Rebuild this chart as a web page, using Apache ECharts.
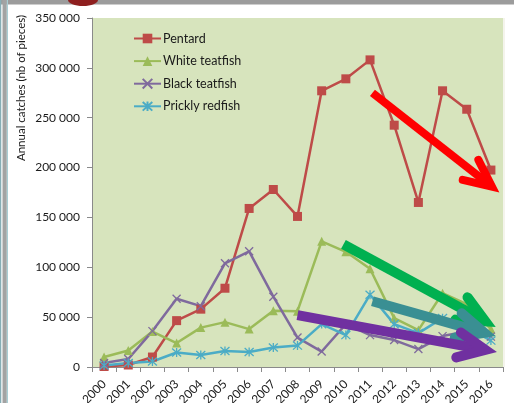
<!DOCTYPE html>
<html>
<head>
<meta charset="utf-8">
<script src="https://cdn.jsdelivr.net/npm/echarts@6/dist/echarts.min.js"></script>
<style>
  html, body { margin: 0; padding: 0; background: #ffffff; }
  #chart { width: 514px; height: 403px; }
</style>
</head>
<body>
<div id="chart"></div>
<script>
// Annual catches of sea cucumbers, number of pieces
const years = ['2000', '2001', '2002', '2003', '2004', '2005', '2006', '2007', '2008',
               '2009', '2010', '2011', '2012', '2013', '2014', '2015', '2016'];
const pentard        = [500, 2000, 10000, 46500, 58000, 79000, 159000, 178000, 151000,
                        277000, 289000, 308000, 242500, 165000, 277000, 258500, 197500];
const whiteTeatfish  = [10000, 16500, 35500, 24000, 39500, 45000, 38000, 56500, 56000,
                        126000, 115500, 98500, 49000, 37000, 74000, 63000, 38000];
const blackTeatfish  = [4000, 8000, 36000, 68500, 61000, 104000, 116000, 70500, 29500,
                        15500, 43000, 32000, 27000, 18000, 31000, 35500, 30500];
const pricklyRedfish = [1500, 4000, 5500, 14500, 12000, 16000, 15000, 19500, 21500,
                        43000, 32000, 72500, 43000, 34000, 49000, 40000, 26500];
const yTicks = [0, 50000, 100000, 150000, 200000, 250000, 300000, 350000];

// Trend arrows, in data units: [category index, catches]; "to" is the arrow point
const trendArrows = [
  { color: '#ff0000', width: 8,  from: [11.1, 275000], to: [16.35, 175000] },
  { color: '#00b050', width: 10, from: [9.9, 123000],  to: [16.2, 40000] },
  { color: '#3a8f93', width: 10, from: [11.1, 66000],  to: [16.2, 31000] },
  { color: '#7030a0', width: 10, from: [8.0, 52000],   to: [16.25, 15000] }
];

const FONT = 'Lato, "Open Sans", sans-serif';
const crossPath = 'path://M0,0L10,10M10,0L0,10';
const starPath = 'path://M5,0L5,10M0.5,0.5L9.5,9.5M9.5,0.5L0.5,9.5';

function lineSeries(name, data, color, symbol, size, hollow) {
  return {
    name: name,
    type: 'line',
    data: data,
    symbol: symbol,
    symbolSize: size,
    showAllSymbol: true,
    lineStyle: { color: color, width: 2.5 },
    itemStyle: hollow
      ? { color: 'rgba(0,0,0,0)', borderColor: color, borderWidth: 1.3 }
      : { color: color, borderColor: color, borderWidth: 0 },
    emphasis: { disabled: true },
    animation: false
  };
}

const chart = echarts.init(document.getElementById('chart'), null, { renderer: 'canvas' });

chart.setOption({
  animation: false,
  backgroundColor: '#ffffff',
  textStyle: { fontFamily: FONT },
  grid: { left: 92, right: 11, top: 18, bottom: 36, show: true, outerBoundsMode: 'none',
          containLabel: false, backgroundColor: '#d7e4bd', borderWidth: 0 },
  legend: {
    orient: 'vertical',
    left: 133, top: 32,
    padding: 0,
    itemWidth: 27, itemHeight: 12, itemGap: 9.6,
    textStyle: { fontFamily: FONT, fontSize: 12.5, color: '#1a1a1a', padding: [0, 0, 0, -3] },
    data: ['Pentard', 'White teatfish', 'Black teatfish', 'Prickly redfish']
  },
  xAxis: {
    type: 'category',
    data: years,
    boundaryGap: true,
    axisLine: { lineStyle: { color: '#8a8a8a', width: 1 } },
    axisTick: { show: true, length: 5, alignWithLabel: false, lineStyle: { color: '#8a8a8a' } },
    axisLabel: { interval: 0, rotate: 45, margin: 15, fontSize: 12, color: '#1a1a1a', fontFamily: FONT },
    splitLine: { show: false }
  },
  yAxis: {
    type: 'value',
    min: yTicks[0],
    max: yTicks[yTicks.length - 1],
    interval: yTicks[1] - yTicks[0],
    axisLine: { show: true, lineStyle: { color: '#8a8a8a', width: 1 } },
    axisTick: { show: true, length: 5, lineStyle: { color: '#8a8a8a' } },
    axisLabel: {
      margin: 12, fontSize: 12, color: '#1a1a1a', fontFamily: FONT,
      formatter: v => v === 0 ? '0' : (v / 1000) + ' 000'
    },
    splitLine: { show: false }
  },
  series: [
    lineSeries('Pentard', pentard, '#be4b48', 'rect', 9, false),
    lineSeries('White teatfish', whiteTeatfish, '#9bbb59', 'triangle', 9, false),
    lineSeries('Black teatfish', blackTeatfish, '#7f6a9d', crossPath, 8, true),
    lineSeries('Prickly redfish', pricklyRedfish, '#4bacc6', starPath, 9, true)
  ]
});

// Map a (possibly fractional) category index and value to pixels
function toPixel(pt) {
  const i0 = Math.floor(pt[0]);
  const a = chart.convertToPixel({ gridIndex: 0 }, [i0, pt[1]]);
  const b = chart.convertToPixel({ gridIndex: 0 }, [i0 + 1, pt[1]]);
  const f = pt[0] - i0;
  return [a[0] + (b[0] - a[0]) * f, a[1]];
}

function arrowElements(arrow, z) {
  const p0 = toPixel(arrow.from);
  const outer = toPixel(arrow.to);
  const ang = Math.atan2(outer[1] - p0[1], outer[0] - p0[0]);
  const cosA = Math.cos(ang), sinA = Math.sin(ang);
  const spread = 25 * Math.PI / 180;
  // pull the stroke's centre back so the mitred point lands on "to"
  const miter = arrow.width / 2 / Math.sin(spread);
  const tip = [outer[0] - miter * cosA, outer[1] - miter * sinA];
  const back = ang + Math.PI;
  const armLen = 30;
  const arm1 = [tip[0] + armLen * Math.cos(back - spread), tip[1] + armLen * Math.sin(back - spread)];
  const arm2 = [tip[0] + armLen * Math.cos(back + spread), tip[1] + armLen * Math.sin(back + spread)];
  return [
    { type: 'polyline', z: z, silent: true,
      shape: { points: [p0, tip] },
      style: { stroke: arrow.color, lineWidth: arrow.width, lineCap: 'butt', fill: null } },
    { type: 'polyline', z: z, silent: true,
      shape: { points: [arm1, tip, arm2] },
      style: { stroke: arrow.color, lineWidth: arrow.width, lineCap: 'round', lineJoin: 'miter',
               miterLimit: 10, fill: null } }
  ];
}

const graphics = [
  // slide frame: top bar and left edge
  { type: 'rect', z: 1, silent: true, shape: { x: 0, y: 0, width: 514, height: 4.5 }, style: { fill: '#9c9c9c' } },
  { type: 'ellipse', z: 2, silent: true, shape: { cx: 83, cy: 0, rx: 15, ry: 6 }, style: { fill: '#8e1f1f' } },
  { type: 'rect', z: 1, silent: true, shape: { x: 0, y: 0, width: 1.3, height: 403 }, style: { fill: '#86aeb6' } },
  { type: 'rect', z: 1, silent: true, shape: { x: 2.5, y: 0, width: 4.3, height: 403 }, style: { fill: '#a3a3a3' } },
  { type: 'rect', z: 1, silent: true, shape: { x: 6.8, y: 0, width: 1.2, height: 403 }, style: { fill: '#a9cdd3' } },
  { type: 'rect', z: 1, silent: true, shape: { x: 503, y: 18, width: 2, height: 349 }, style: { fill: '#f4f4ec' } },
  // axis title
  { type: 'text', z: 5, silent: true, x: 21, y: 88, rotation: Math.PI / 2,
    style: { text: 'Annual catches (nb of pieces)', fontFamily: FONT, fontSize: 11.5,
             fill: '#1a1a1a', align: 'center', verticalAlign: 'middle' } }
];
trendArrows.forEach((a, k) => { arrowElements(a, 20 + k).forEach(e => graphics.push(e)); });
chart.setOption({ graphic: graphics });
</script>
</body>
</html>
